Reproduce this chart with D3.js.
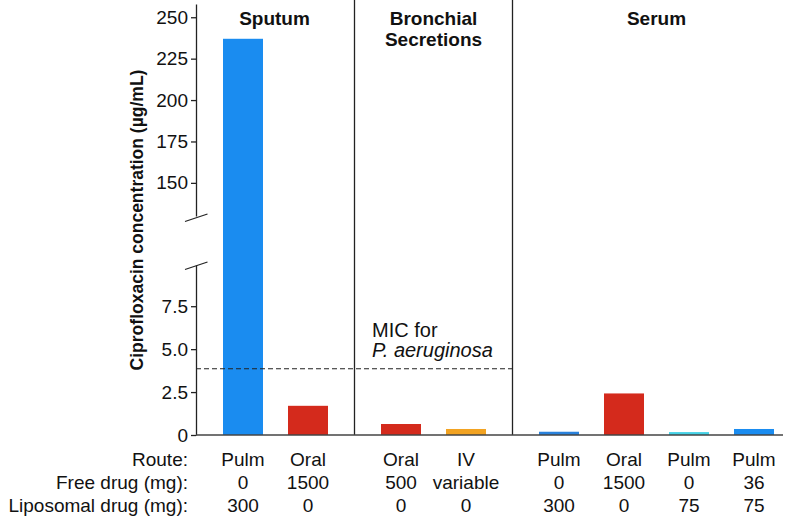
<!DOCTYPE html>
<html><head><meta charset="utf-8">
<script src="https://cdn.jsdelivr.net/npm/d3@7"></script>
<style>body{margin:0;background:#fff}svg{display:block}text{font-family:"Liberation Sans",Arial,sans-serif;fill:#111}</style>
</head><body><svg id="c" width="800" height="521"></svg>
<script>
const groups = ["Sputum", "Bronchial|Secretions", "Serum"];
const groupOf = [0, 0, 1, 1, 2, 2, 2, 2];
const routes = ["Pulm", "Oral", "Oral", "IV", "Pulm", "Oral", "Pulm", "Pulm"];
const freeDrug = ["0", "1500", "500", "variable", "0", "1500", "0", "36"];
const liposomalDrug = ["300", "0", "0", "0", "300", "0", "75", "75"];
const values = [237, 1.70, 0.64, 0.35, 0.19, 2.42, 0.17, 0.35];
const barColors = ["#1a8cf0", "#d42a1c", "#d42a1c", "#f2a322", "#2a82dc", "#d42a1c", "#45d2e6", "#1a8cf0"];
const rowLabels = ["Route:", "Free drug (mg):", "Liposomal drug (mg):"];
const upperTicks = [150, 175, 200, 225, 250];
const lowerTicks = [0, 2.5, 5.0, 7.5];
const micValue = 3.86;

const svg = d3.select("#c");
const axisX = 196, baseY = 435;
const yTop = d3.scaleLinear().domain([130, 258]).range([216, 4]);
const yLow = d3.scaleLinear().domain([0, 9.9]).range([baseY, 265]);
const y = v => v > 9.9 ? yTop(v) : yLow(v);
// slot position: index plus group gap
const slot = d3.scaleLinear().domain([0, 1]).range([243, 308]);
const gapSlots = 28 / 65;
const cx = i => slot(i + groupOf[i] * gapSlots);
const barW = 40;

// dividers
const divX = [ (cx(1)+cx(2))/2, (cx(3)+cx(4))/2 ];
svg.selectAll(".div").data(divX).enter().append("line")
  .attr("x1", d => d).attr("x2", d => d).attr("y1", 0).attr("y2", baseY)
  .attr("stroke", "#222").attr("stroke-width", 1.3);

// bars
svg.selectAll(".bar").data(values).enter().append("rect")
  .attr("x", (d, i) => cx(i) - barW / 2).attr("width", barW)
  .attr("y", d => y(d)).attr("height", d => baseY - y(d))
  .attr("fill", (d, i) => barColors[i]);

// MIC line
svg.append("line").attr("x1", axisX).attr("x2", divX[1]).attr("y1", yLow(micValue)).attr("y2", yLow(micValue))
  .attr("stroke", "#222").attr("stroke-width", 1.1).attr("stroke-dasharray", "5,3");
svg.append("text").attr("x", 372).attr("y", 337).style("font-size", "20px").text("MIC for");
svg.append("text").attr("x", 372).attr("y", 357).style("font-size", "20px").style("font-style", "italic").text("P. aeruginosa");

// axes
const gU = svg.append("g").attr("transform", `translate(${axisX},0)`)
  .call(d3.axisLeft(yTop).tickValues(upperTicks).tickSize(5).tickPadding(3).tickSizeOuter(0));
const gL = svg.append("g").attr("transform", `translate(${axisX},0)`)
  .call(d3.axisLeft(yLow).tickValues(lowerTicks).tickSize(5).tickPadding(3).tickSizeOuter(0)
    .tickFormat(d => d === 0 ? "0" : d3.format(".1f")(d)));
[gU, gL].forEach(g => {
  g.selectAll("text").style("font-size", "19px").style("font-family", '"Liberation Sans",Arial,sans-serif').attr("fill", "#111");
  g.selectAll("line,path").attr("stroke", "#222").attr("stroke-width", 1.3);
});
// break marks
[[221.5, 214], [269.5, 262]].forEach(([a, b]) => {
  svg.append("line").attr("x1", 185).attr("y1", a).attr("x2", 207.5).attr("y2", b)
    .attr("stroke", "#222").attr("stroke-width", 1.3);
});

// x baseline
svg.append("line").attr("x1", axisX).attr("x2", 783).attr("y1", baseY).attr("y2", baseY)
  .attr("stroke", "#444").attr("stroke-width", 1.5);

// group titles
const gCenters = [ (cx(0)+cx(1))/2 - 1, (cx(2)+cx(3))/2, (cx(4)+cx(7))/2 ];
groups.forEach((g, gi) => {
  const lines = g.split("|");
  lines.forEach((l, li) => {
    svg.append("text").attr("x", gCenters[gi]).attr("y", 25 + li * 21)
      .attr("text-anchor", "middle").style("font-size", "19px").style("font-weight", "bold").text(l);
  });
});

// y title
svg.append("text").attr("transform", "translate(143,220) rotate(-90)")
  .attr("text-anchor", "middle").style("font-size", "17.5px").style("font-weight", "bold")
  .text("Ciprofloxacin concentration (µg/mL)");

// table rows
const rowY = [466, 489, 512];
const rows = [routes, freeDrug, liposomalDrug];
rowLabels.forEach((l, r) => {
  svg.append("text").attr("x", 188).attr("y", rowY[r]).attr("text-anchor", "end").style("font-size", "19px").text(l);
  svg.selectAll(".r" + r).data(rows[r]).enter().append("text")
    .attr("x", (d, i) => cx(i)).attr("y", rowY[r]).attr("text-anchor", "middle").style("font-size", "19px").text(d => d);
});
</script></body></html>
